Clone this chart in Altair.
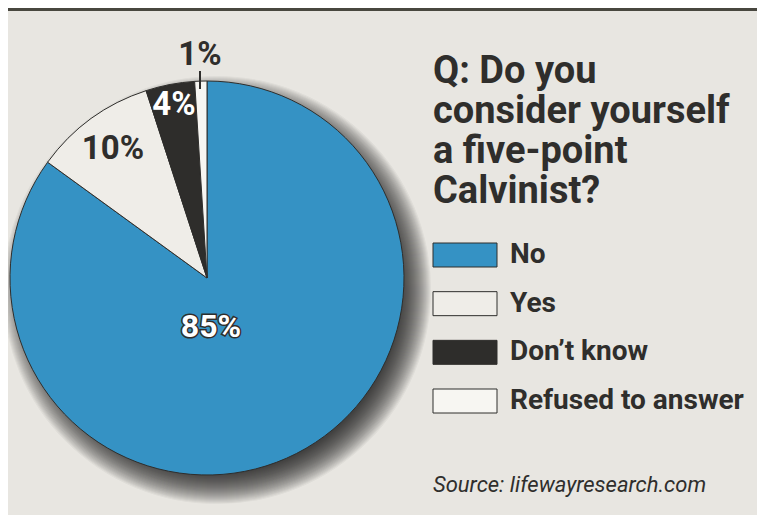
import altair as alt
import pandas as pd

# ---- data ----
categories = ["No", "Yes", "Don\u2019t know", "Refused to answer"]
values = [85, 10, 4, 1]
title_lines = ["Q: Do you", "consider yourself", "a five-point", "Calvinist?"]
source_text = "Source: lifewayresearch.com"

fill_colors = ["#3592c4", "#efede8", "#2e2d2b", "#f7f6f2"]

df = pd.DataFrame({"cat": categories, "value": values})
df["end"] = df["value"].cumsum()
df["start"] = df["end"] - df["value"]
df["mid"] = (df["start"] + df["end"]) / 2
df["label"] = df["value"].astype(str) + "%"

# ---- layout / style ----
W, H = 749, 507
CX, CY, R = 199, 270, 197
FONT = "Roboto, Liberation Sans, sans-serif"
INK = "#2f2e2c"
BG = "#e8e6e1"

color_scale = alt.Scale(domain=categories, range=fill_colors)
theta_scale = alt.Scale(domain=[0, 100])
legend_y = alt.Scale(type="point", domain=categories, range=[247, 393], padding=0)

base = alt.Chart(df)
one = alt.Chart(pd.DataFrame({"k": [0]}))

# soft drop shadow (many stacked faint discs -> smooth falloff)
shadow_layers = []
for r in range(183, 215):
    shadow_layers.append(
        one.mark_arc(theta=0, theta2=6.2832, radius=r, color="#1a1a1a", opacity=0.045).encode(
            x=alt.value(CX + 10), y=alt.value(CY + 12)
        )
    )

pie = base.mark_arc(radius=R, stroke=INK, strokeWidth=1).encode(
    theta=alt.Theta("start:Q", scale=theta_scale, stack=None),
    theta2="end:Q",
    color=alt.Color("cat:N", scale=color_scale, legend=None),
    x=alt.value(CX),
    y=alt.value(CY),
)

label_style = {
    "No": dict(radius=55, dx=-21, size=32, fill="white", outline=True),
    "Yes": dict(radius=160, dx=0, size=33, fill=INK, outline=False),
    "Don\u2019t know": dict(radius=176, dx=0, size=33, fill="white", outline=False),
    "Refused to answer": dict(radius=223, dx=0, size=33, fill=INK, outline=False),
}

labels = []
for c in categories:
    st = label_style[c]
    enc = dict(
        theta=alt.Theta("mid:Q", scale=theta_scale, stack=None),
        text="label:N",
        x=alt.value(CX),
        y=alt.value(CY),
    )
    if st["outline"]:
        labels.append(
            base.transform_filter(alt.datum.cat == c).mark_text(
                radius=st["radius"], dx=st["dx"], fontSize=st["size"], font=FONT,
                fontWeight="bold", align="center", baseline="middle",
                color=INK, stroke=INK, strokeWidth=3,
            ).encode(**enc)
        )
    labels.append(
        base.transform_filter(alt.datum.cat == c).mark_text(
            radius=st["radius"], dx=st["dx"], fontSize=st["size"], font=FONT,
            fontWeight="bold", align="center", baseline="middle", color=st["fill"],
        ).encode(**enc)
    )

tick = one.mark_rule(color=INK, strokeWidth=2).encode(
    x=alt.value(192), y=alt.value(63), y2=alt.value(81)
)

swatch = base.mark_point(
    shape="M-1,-0.375H1V0.375H-1Z", filled=True, size=4096,
    stroke=INK, strokeWidth=1, opacity=1,
).encode(
    x=alt.value(457),
    y=alt.Y("cat:N", scale=legend_y, axis=None),
    color=alt.Color("cat:N", scale=color_scale, legend=None),
)

legend_text = base.mark_text(
    align="left", baseline="middle", font=FONT, fontWeight="bold",
    fontSize=28, color=INK,
).encode(
    x=alt.value(502),
    y=alt.Y("cat:N", scale=legend_y, axis=None),
    text="cat:N",
)

title = one.mark_text(
    align="left", baseline="alphabetic", font=FONT, fontWeight="bold",
    fontSize=38, lineHeight=40, color=INK,
).encode(x=alt.value(425), y=alt.value(75), text=alt.value(title_lines))

source = one.mark_text(
    align="left", baseline="alphabetic", font=FONT, fontStyle="italic",
    fontSize=22, color=INK,
).encode(x=alt.value(425), y=alt.value(484), text=alt.value(source_text))

band = one.mark_rect(color="#48473f").encode(
    x=alt.value(0), x2=alt.value(W), y=alt.value(0), y2=alt.value(3)
)

chart = alt.layer(
    *shadow_layers, pie, *labels, tick, swatch, legend_text, title, source, band
).properties(
    width=W, height=H, autosize=alt.AutoSizeParams(type="none"), padding=0,
    background=BG,
).configure_view(strokeWidth=0)

chart.save("out.html", embed_options={"renderer": "svg", "actions": False})
